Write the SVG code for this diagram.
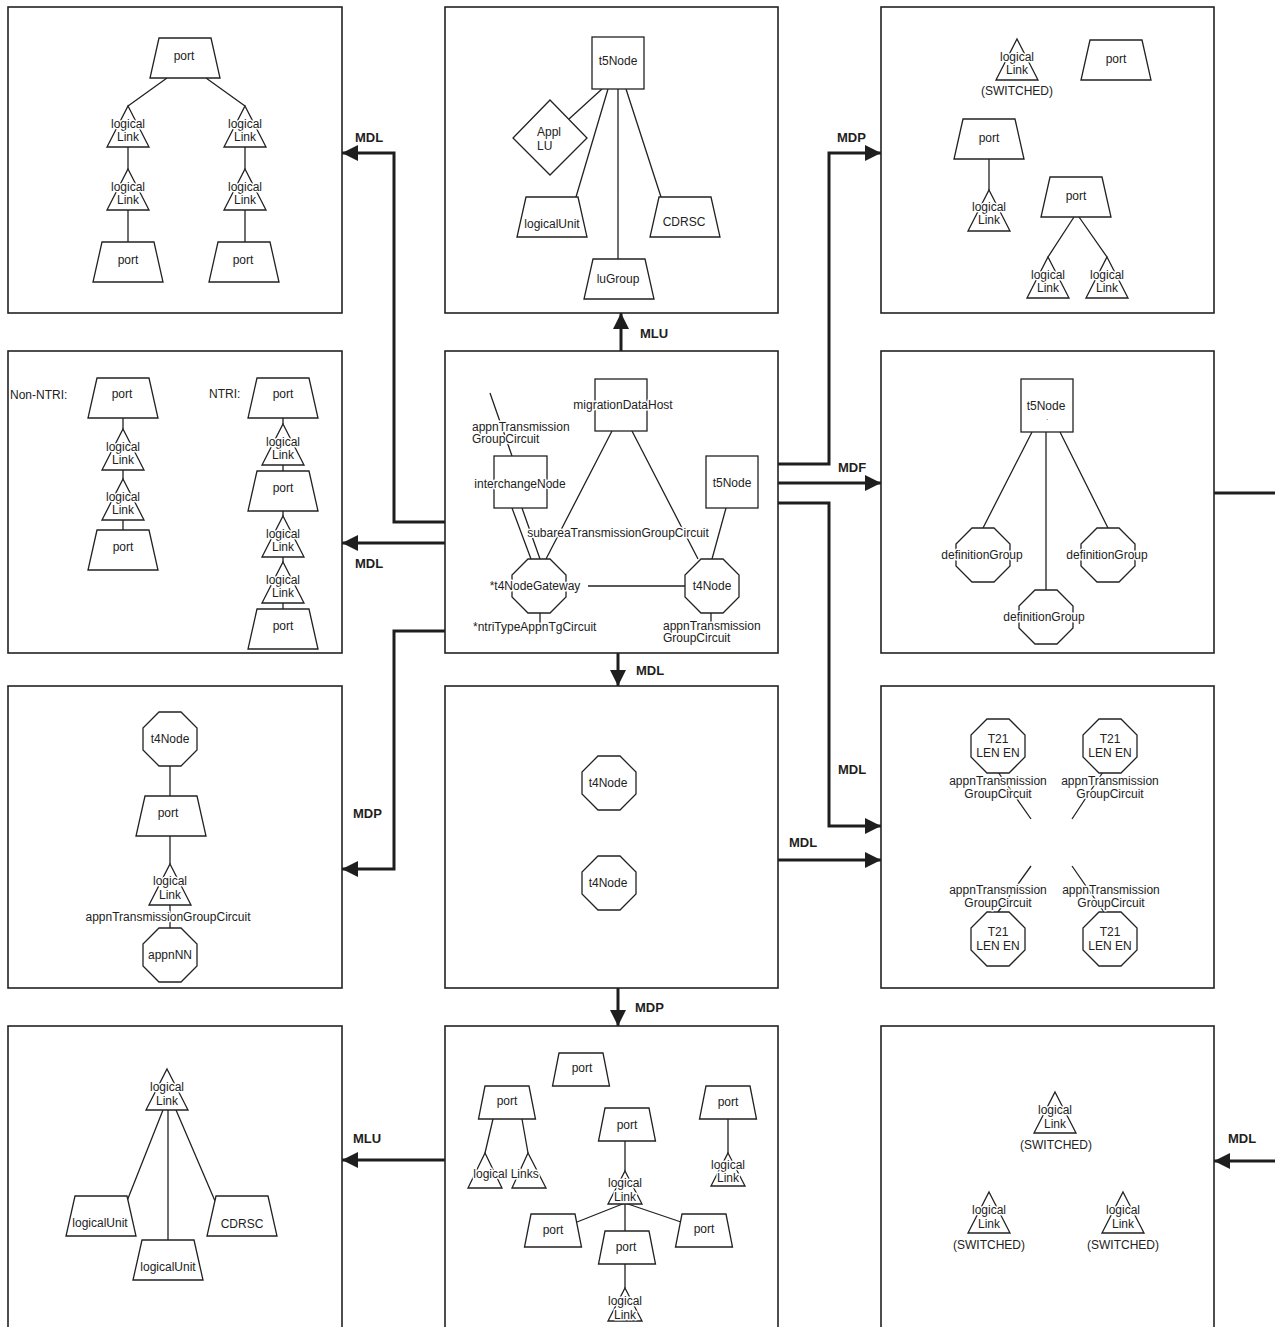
<svg xmlns="http://www.w3.org/2000/svg" width="1275" height="1327" viewBox="0 0 1275 1327">
<style>
.frame{fill:none;stroke:#222;stroke-width:1.6}
.sh{fill:#fff;stroke:#222;stroke-width:1.3}
.ln{fill:none;stroke:#222;stroke-width:1.3}
.cn{fill:none;stroke:#1e1e1e;stroke-width:3;marker-end:url(#ah)}
.cn0{fill:none;stroke:#1e1e1e;stroke-width:3}
text{font-family:"Liberation Sans",Arial,Helvetica,sans-serif;font-size:12px;fill:#222;text-anchor:middle;stroke:#fff;stroke-width:3;stroke-linejoin:round;paint-order:stroke}
.st{text-anchor:start}
.lab{font-weight:bold;font-size:13px;text-anchor:start;stroke:none;fill:#1e1e1e}
</style>
<defs>
<marker id="ah" markerUnits="userSpaceOnUse" markerWidth="16" markerHeight="16" refX="16" refY="8" orient="auto" viewBox="0 0 16 16"><path d="M0,0 L16,8 L0,16 z" fill="#1e1e1e"/></marker>
<polygon id="oct" points="-11,-27 11,-27 27,-11 27,11 11,27 -11,27 -27,11 -27,-11" fill="#fff" stroke="#222" stroke-width="1.3"/>
<polygon id="port" points="-26,0 26,0 35,40 -35,40" fill="#fff" stroke="#222" stroke-width="1.3"/>
<polygon id="sport" points="-22,0 22,0 28.5,33 -28.5,33" fill="#fff" stroke="#222" stroke-width="1.3"/>
<polygon id="ll" points="0,0 21,41 -21,41" fill="#fff" stroke="#222" stroke-width="1.3"/>
<polygon id="sll" points="0,0 17,33 -17,33" fill="#fff" stroke="#222" stroke-width="1.3"/>
</defs>
<rect width="1275" height="1327" fill="#fff"/>

<g id="connectors">
 <path class="cn" d="M621,351 V313"/>
 <path class="cn" d="M445,522 H394 V153 H342"/>
 <path class="cn" d="M445,543 H342"/>
 <path class="cn" d="M445,631 H394 V869 H342"/>
 <path class="cn" d="M778,464 H829 V153 H881"/>
 <path class="cn" d="M778,483 H881"/>
 <path class="cn" d="M778,503 H829 V826 H881"/>
 <path class="cn" d="M618,653 V686"/>
 <path class="cn" d="M778,860 H881"/>
 <path class="cn" d="M618,988 V1026"/>
 <path class="cn" d="M445,1160 H342"/>
 <path class="cn0" d="M1214,493 H1275"/>
 <path class="cn" d="M1275,1161 H1214"/>
 <text class="lab" x="355" y="142">MDL</text>
 <text class="lab" x="640" y="338">MLU</text>
 <text class="lab" x="837" y="142">MDP</text>
 <text class="lab" x="838" y="472">MDF</text>
 <text class="lab" x="355" y="568">MDL</text>
 <text class="lab" x="636" y="675">MDL</text>
 <text class="lab" x="353" y="818">MDP</text>
 <text class="lab" x="838" y="774">MDL</text>
 <text class="lab" x="789" y="847">MDL</text>
 <text class="lab" x="635" y="1012">MDP</text>
 <text class="lab" x="353" y="1143">MLU</text>
 <text class="lab" x="1228" y="1143">MDL</text>
 <g id="inner-links">
  <path class="ln" d="M167,78 L128,106 M206,78 L245,106 M128,147 V169 M245,147 V169 M128,210 V242 M245,210 V242"/>
  <path class="ln" d="M602,89 L569,119 M608,89 L576,197 M618,89 V259 M626,89 L661,197"/>
  <path class="ln" d="M989,159 V190 M1074,217 L1048,257 M1079,217 L1107,257"/>
  <path class="ln" d="M123,418 V429 M123,470 V479 M123,520 V530 M283,418 V424 M283,465 V471 M283,511 V516 M283,557 V562 M283,603 V609"/>
  <path class="ln" d="M490,393 L512,456 M512,508 L531,559 M522,508 L540,559 M612,431 L546,559 M632,431 L698,559 M726,508 L712,559 M588,586 H685 M540,613 V624 M711,613 V624"/>
  <path class="ln" d="M1032,432 L983,528 M1046,432 V590 M1060,432 L1108,528"/>
  <path class="ln" d="M170,766 V796 M170,836 V864 M170,905 V928"/>
  <path class="ln" d="M998,772 L1031,819 M1103,772 L1072,819 M1031,866 L998,912 M1072,866 L1104,912"/>
  <path class="ln" d="M163,1110 L127,1201 M168,1110 V1240 M176,1110 L215,1201"/>
  <path class="ln" d="M493,1119 L485,1153 M522,1119 L528,1153 M625,1141 V1171 M625,1203 L577,1222 M625,1203 V1231 M625,1203 L681,1222 M625,1264 V1288 M728,1119 V1153"/>
 </g>
</g>

<g id="panel-mdl-links">
 <rect class="frame" x="8" y="7" width="334" height="306"/>
 <g id="n1-port"><use href="#port" x="185" y="38"/><text x="184" y="60">port</text></g>
 <g id="n1-ll1"><use href="#ll" x="128" y="106"/><text x="128" y="128">logical</text><text x="128" y="141">Link</text></g>
 <g id="n1-ll2"><use href="#ll" x="245" y="106"/><text x="245" y="128">logical</text><text x="245" y="141">Link</text></g>
 <g id="n1-ll3"><use href="#ll" x="128" y="169"/><text x="128" y="191">logical</text><text x="128" y="204">Link</text></g>
 <g id="n1-ll4"><use href="#ll" x="245" y="169"/><text x="245" y="191">logical</text><text x="245" y="204">Link</text></g>
 <g id="n1-port2"><use href="#port" x="128" y="242"/><text x="128" y="264">port</text></g>
 <g id="n1-port3"><use href="#port" x="244" y="242"/><text x="243" y="264">port</text></g>
</g>

<g id="panel-mlu-top">
 <rect class="frame" x="445" y="7" width="333" height="306"/>
 <g id="n2-t5"><rect class="sh" x="592" y="37" width="52" height="52"/><text x="618" y="65">t5Node</text></g>
 <g id="n2-appl"><polygon class="sh" points="550,100 587,138 550,175 513,138"/><text class="st" x="537" y="136">Appl</text><text class="st" x="537" y="150">LU</text></g>
 <g id="n2-lu"><use href="#port" x="552" y="197"/><text x="552" y="228">logicalUnit</text></g>
 <g id="n2-cdrsc"><use href="#port" x="685" y="197"/><text x="684" y="226">CDRSC</text></g>
 <g id="n2-lug"><use href="#port" x="619" y="259"/><text x="618" y="283">luGroup</text></g>
</g>

<g id="panel-mdp-top">
 <rect class="frame" x="881" y="7" width="333" height="306"/>
 <g id="n3-ll"><use href="#ll" x="1017" y="39"/><text x="1017" y="61">logical</text><text x="1017" y="74">Link</text><text x="1017" y="95">(SWITCHED)</text></g>
 <g id="n3-port1"><use href="#port" x="1116" y="40"/><text x="1116" y="63">port</text></g>
 <g id="n3-port2"><use href="#port" x="989" y="119"/><text x="989" y="142">port</text></g>
 <g id="n3-ll2"><use href="#ll" x="989" y="190"/><text x="989" y="211">logical</text><text x="989" y="224">Link</text></g>
 <g id="n3-port3"><use href="#port" x="1076" y="177"/><text x="1076" y="200">port</text></g>
 <g id="n3-ll3"><use href="#ll" x="1048" y="257"/><text x="1048" y="279">logical</text><text x="1048" y="292">Link</text></g>
 <g id="n3-ll4"><use href="#ll" x="1107" y="257"/><text x="1107" y="279">logical</text><text x="1107" y="292">Link</text></g>
</g>

<g id="panel-mdl-ntri">
 <rect class="frame" x="8" y="351" width="334" height="302"/>
 <text class="st" x="10" y="399">Non-NTRI:</text>
 <text class="st" x="209" y="398">NTRI:</text>
 <g id="n4-p1"><use href="#port" x="123" y="378"/><text x="122" y="398">port</text></g>
 <g id="n4-ll1"><use href="#ll" x="123" y="429"/><text x="123" y="451">logical</text><text x="123" y="464">Link</text></g>
 <g id="n4-ll2"><use href="#ll" x="123" y="479"/><text x="123" y="501">logical</text><text x="123" y="514">Link</text></g>
 <g id="n4-p2"><use href="#port" x="123" y="530"/><text x="123" y="551">port</text></g>
 <g id="n4-p3"><use href="#port" x="283" y="378"/><text x="283" y="398">port</text></g>
 <g id="n4-ll3"><use href="#ll" x="283" y="424"/><text x="283" y="446">logical</text><text x="283" y="459">Link</text></g>
 <g id="n4-p4"><use href="#port" x="283" y="471"/><text x="283" y="492">port</text></g>
 <g id="n4-ll4"><use href="#ll" x="283" y="516"/><text x="283" y="538">logical</text><text x="283" y="551">Link</text></g>
 <g id="n4-ll5"><use href="#ll" x="283" y="562"/><text x="283" y="584">logical</text><text x="283" y="597">Link</text></g>
 <g id="n4-p5"><use href="#port" x="283" y="609"/><text x="283" y="630">port</text></g>
</g>

<g id="panel-center">
 <rect class="frame" x="445" y="351" width="333" height="302"/>
 <text class="st" x="472" y="431">appnTransmission</text>
 <text class="st" x="472" y="443">GroupCircuit</text>
 <g id="n5-mdh"><rect class="sh" x="595" y="379" width="52" height="52"/><text x="623" y="409">migrationDataHost</text></g>
 <g id="n5-icn"><rect class="sh" x="494" y="456" width="53" height="52"/><text x="520" y="488">interchangeNode</text></g>
 <g id="n5-t5"><rect class="sh" x="706" y="456" width="52" height="52"/><text x="732" y="487">t5Node</text></g>
 <text x="618" y="537">subareaTransmissionGroupCircuit</text>
 <g id="n5-gw"><use href="#oct" x="539" y="586"/><text x="535" y="590">*t4NodeGateway</text></g>
 <g id="n5-t4"><use href="#oct" x="712" y="586"/><text x="712" y="590">t4Node</text></g>
 <text class="st" x="473" y="631">*ntriTypeAppnTgCircuit</text>
 <text class="st" x="663" y="630">appnTransmission</text>
 <text class="st" x="663" y="642">GroupCircuit</text>
</g>

<g id="panel-mdf">
 <rect class="frame" x="881" y="351" width="333" height="302"/>
 <g id="n6-t5"><rect class="sh" x="1021" y="379" width="52" height="53"/><text x="1046" y="410">t5Node</text><text x="1047" y="420" style="font-size:8px">.</text></g>
 <g id="n6-dg1"><use href="#oct" x="983" y="555"/><text x="982" y="559">definitionGroup</text></g>
 <g id="n6-dg2"><use href="#oct" x="1108" y="555"/><text x="1107" y="559">definitionGroup</text></g>
 <g id="n6-dg3"><use href="#oct" x="1046" y="617"/><text x="1044" y="621">definitionGroup</text></g>
</g>

<g id="panel-mdp-left">
 <rect class="frame" x="8" y="686" width="334" height="302"/>
 <g id="n7-t4"><use href="#oct" x="170" y="739"/><text x="170" y="743">t4Node</text></g>
 <g id="n7-port"><use href="#port" x="171" y="796"/><text x="168" y="817">port</text></g>
 <g id="n7-ll"><use href="#ll" x="170" y="864"/><text x="170" y="885">logical</text><text x="170" y="899">Link</text></g>
 <text x="168" y="921">appnTransmissionGroupCircuit</text>
 <g id="n7-nn"><use href="#oct" x="170" y="955"/><text x="170" y="959">appnNN</text></g>
</g>

<g id="panel-mdl-mid">
 <rect class="frame" x="445" y="686" width="333" height="302"/>
 <g id="n8-t4a"><use href="#oct" x="609" y="783"/><text x="608" y="787">t4Node</text></g>
 <g id="n8-t4b"><use href="#oct" x="609" y="883"/><text x="608" y="887">t4Node</text></g>
</g>

<g id="panel-mdl-t21">
 <rect class="frame" x="881" y="686" width="333" height="302"/>
 <g id="n9-a"><use href="#oct" x="998" y="746"/><text x="998" y="743">T21</text><text x="998" y="757">LEN EN</text></g>
 <g id="n9-b"><use href="#oct" x="1110" y="746"/><text x="1110" y="743">T21</text><text x="1110" y="757">LEN EN</text></g>
 <g id="n9-c"><use href="#oct" x="998" y="939"/><text x="998" y="936">T21</text><text x="998" y="950">LEN EN</text></g>
 <g id="n9-d"><use href="#oct" x="1110" y="939"/><text x="1110" y="936">T21</text><text x="1110" y="950">LEN EN</text></g>
 <text x="998" y="785">appnTransmission</text><text x="998" y="798">GroupCircuit</text>
 <text x="1110" y="785">appnTransmission</text><text x="1110" y="798">GroupCircuit</text>
 <text x="998" y="894">appnTransmission</text><text x="998" y="907">GroupCircuit</text>
 <text x="1111" y="894">appnTransmission</text><text x="1111" y="907">GroupCircuit</text>
</g>

<g id="panel-mlu-bottom">
 <rect class="frame" x="8" y="1026" width="334" height="330"/>
 <g id="n10-ll"><use href="#ll" x="167" y="1069"/><text x="167" y="1091">logical</text><text x="167" y="1105">Link</text></g>
 <g id="n10-lu1"><use href="#port" x="101" y="1196"/><text x="100" y="1227">logicalUnit</text></g>
 <g id="n10-lu2"><use href="#port" x="168" y="1240"/><text x="168" y="1271">logicalUnit</text></g>
 <g id="n10-cd"><use href="#port" x="242" y="1196"/><text x="242" y="1228">CDRSC</text></g>
</g>

<g id="panel-mdp-bottom">
 <rect class="frame" x="445" y="1026" width="333" height="330"/>
 <g id="n11-p1"><use href="#sport" x="581" y="1053"/><text x="582" y="1072">port</text></g>
 <g id="n11-p2"><use href="#sport" x="507" y="1086"/><text x="507" y="1105">port</text></g>
 <g id="n11-lls"><polygon class="sh" points="485,1153 502,1188 468,1188"/><polygon class="sh" points="528,1153 546,1188 512,1188"/><text x="506" y="1178">logical Links</text></g>
 <g id="n11-p3"><use href="#sport" x="627" y="1108"/><text x="627" y="1129">port</text></g>
 <g id="n11-ll1"><use href="#sll" x="625" y="1171"/><text x="625" y="1187">logical</text><text x="625" y="1201">Link</text></g>
 <g id="n11-p4"><use href="#sport" x="553" y="1214"/><text x="553" y="1234">port</text></g>
 <g id="n11-p5"><use href="#sport" x="704" y="1214"/><text x="704" y="1233">port</text></g>
 <g id="n11-p6"><use href="#sport" x="627" y="1231"/><text x="626" y="1251">port</text></g>
 <g id="n11-ll2"><use href="#sll" x="625" y="1288"/><text x="625" y="1305">logical</text><text x="625" y="1319">Link</text></g>
 <g id="n11-p7"><use href="#sport" x="728" y="1086"/><text x="728" y="1106">port</text></g>
 <g id="n11-ll3"><use href="#sll" x="728" y="1153"/><text x="728" y="1169">logical</text><text x="728" y="1182">Link</text></g>
</g>

<g id="panel-mdl-switched">
 <rect class="frame" x="881" y="1026" width="333" height="330"/>
 <g id="n12-a"><use href="#ll" x="1055" y="1092"/><text x="1055" y="1114">logical</text><text x="1055" y="1128">Link</text><text x="1056" y="1149">(SWITCHED)</text></g>
 <g id="n12-b"><use href="#ll" x="989" y="1192"/><text x="989" y="1214">logical</text><text x="989" y="1228">Link</text><text x="989" y="1249">(SWITCHED)</text></g>
 <g id="n12-c"><use href="#ll" x="1123" y="1192"/><text x="1123" y="1214">logical</text><text x="1123" y="1228">Link</text><text x="1123" y="1249">(SWITCHED)</text></g>
</g>
</svg>
